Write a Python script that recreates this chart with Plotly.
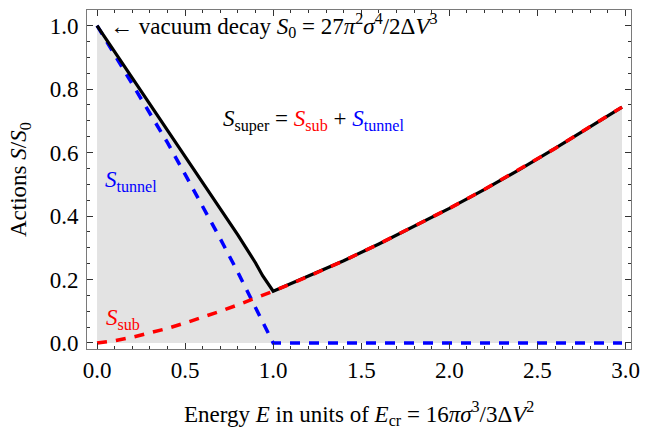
import plotly.graph_objects as go

# ---- data ----
energy_sub = [0, 0.1, 0.2, 0.3, 0.4, 0.5, 0.6, 0.7, 0.8, 0.9, 1.0,
              1.2, 1.4, 1.6, 1.8, 2.0, 2.2, 2.4, 2.6, 2.8, 2.98]
s_sub = [0.0, 0.007, 0.018, 0.031, 0.046, 0.063, 0.081, 0.100, 0.120, 0.141, 0.163,
         0.210, 0.259, 0.312, 0.367, 0.424, 0.484, 0.547, 0.613, 0.682, 0.743]

energy_tunnel = [0, 0.1, 0.2, 0.3, 0.4, 0.5, 0.6, 0.7, 0.8, 0.9, 1.0, 1.5, 2.0, 2.5, 2.98]
s_tunnel = [1.0, 0.908, 0.818, 0.726, 0.631, 0.531, 0.431, 0.328, 0.222, 0.111, 0.0,
            0.0, 0.0, 0.0, 0.0]

energy_super = [0, 0.1, 0.2, 0.3, 0.4, 0.5, 0.6, 0.7, 0.8, 0.9, 0.94, 1.0,
                1.2, 1.4, 1.6, 1.8, 2.0, 2.2, 2.4, 2.6, 2.8, 2.98]
s_super = [1.0, 0.918, 0.836, 0.754, 0.672, 0.590, 0.507, 0.424, 0.340, 0.252, 0.212, 0.163,
           0.210, 0.259, 0.312, 0.367, 0.424, 0.484, 0.547, 0.613, 0.682, 0.743]

x_ticks = [0.0, 0.5, 1.0, 1.5, 2.0, 2.5, 3.0]
x_ticktext = ["0.0", "0.5", "1.0", "1.5", "2.0", "2.5", "3.0"]
y_ticks = [0.0, 0.2, 0.4, 0.6, 0.8, 1.0]
y_ticktext = ["0.0", "0.2", "0.4", "0.6", "0.8", "1.0"]

FONT = "Liberation Serif, Times New Roman, serif"
FS = 23
RED = "#ff0000"
BLUE = "#0000ff"

fig = go.Figure()
fig.add_trace(go.Scatter(x=energy_super, y=s_super, mode="lines", fill="tozeroy",
                         fillcolor="#e3e3e3", line=dict(width=0), hoverinfo="skip"))
fig.add_trace(go.Scatter(x=energy_tunnel, y=s_tunnel, mode="lines",
                         line=dict(color=BLUE, width=3.5, dash="10px,9px")))
fig.add_trace(go.Scatter(x=energy_super, y=s_super, mode="lines",
                         line=dict(color="black", width=3.2)))
fig.add_trace(go.Scatter(x=energy_sub, y=s_sub, mode="lines",
                         line=dict(color=RED, width=3.5, dash="10px,9px")))

axis_common = dict(showgrid=False, zeroline=False, showline=True, linecolor="#7a7a7a",
                   linewidth=1, mirror="allticks", ticks="inside", ticklen=6,
                   tickcolor="#333333", tickwidth=1,
                   tickfont=dict(family=FONT, size=FS, color="black"))

fig.update_xaxes(range=[-0.057, 3.031], tickvals=x_ticks, ticktext=x_ticktext,
                 minor=dict(ticks="inside", ticklen=3, dtick=0.1, tick0=0,
                            tickcolor="#333333"),
                 ticklabelstandoff=0, **axis_common)
fig.update_yaxes(range=[-0.019, 1.049], tickvals=y_ticks, ticktext=y_ticktext,
                 minor=dict(ticks="inside", ticklen=3, dtick=0.05, tick0=0,
                            tickcolor="#333333"),
                 ticklabelstandoff=3, **axis_common)

annotations = [
    dict(x=0.06, y=1.0, xref="x", yref="y", xanchor="left", yanchor="middle",
         text="← vacuum decay <i>S</i><sub>0</sub> = 27<i>π</i><sup>2</sup><i>σ</i><sup>4</sup>/2Δ<i>V</i><sup>3</sup>"),
    dict(x=1.23, y=0.70, xref="x", yref="y", xanchor="center", yanchor="middle",
         text="<i>S</i><sub>super</sub> = <span style='color:#ff0000'><i>S</i><sub>sub</sub></span> + "
              "<span style='color:#0000ff'><i>S</i><sub>tunnel</sub></span>"),
    dict(x=0.035, y=0.51, xref="x", yref="y", xanchor="left", yanchor="middle",
         text="<span style='color:#0000ff'><i>S</i><sub>tunnel</sub></span>"),
    dict(x=0.04, y=0.075, xref="x", yref="y", xanchor="left", yanchor="middle",
         text="<span style='color:#ff0000'><i>S</i><sub>sub</sub></span>"),
    dict(x=-0.124, y=0.5, xref="paper", yref="paper", xanchor="center", yanchor="middle",
         textangle=-90, text="Actions <i>S</i>/<i>S</i><sub>0</sub>"),
    dict(x=0.5, y=-0.19, xref="paper", yref="paper", xanchor="center", yanchor="middle",
         text="Energy <i>E</i> in units of <i>E</i><sub>cr</sub> = 16<i>πσ</i><sup>3</sup>/3Δ<i>V</i><sup>2</sup>"),
]
for a in annotations:
    a.update(showarrow=False, font=dict(family=FONT, size=FS, color="black"))
fig.update_layout(annotations=annotations)

fig.update_layout(width=649, height=430, margin=dict(l=87, r=11, t=9, b=81),
                  plot_bgcolor="white", paper_bgcolor="white", showlegend=False,
                  font=dict(family=FONT, size=FS, color="black"))

fig.write_html("out.html")
